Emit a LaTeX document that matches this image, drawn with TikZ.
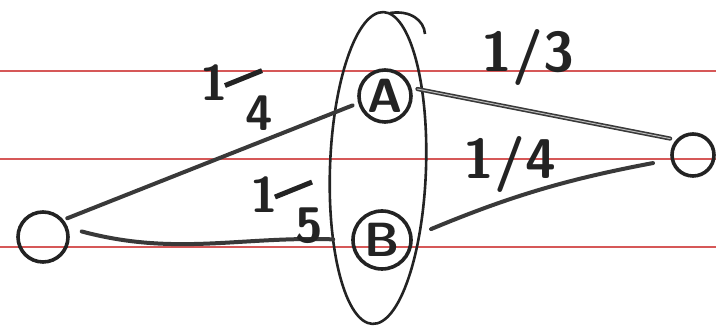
\documentclass[tikz,border=0pt]{standalone}
\usepackage{fontspec}
\definecolor{ruled}{RGB}{214,88,88}
\definecolor{ink}{RGB}{35,35,35}
% hand-style fraction: numerator up left, tilted bar, denominator down right
\newcommand{\slantfrac}[2]{\raisebox{0.6em}{#1}\kern-0.08em\raisebox{0.86em}{\rotatebox{22}{\rule{0.8em}{0.1em}}}\kern-0.34em#2}
\begin{document}
\begin{tikzpicture}[x=1pt, y=1pt,
  pen/.style={line width=3.6pt, color=ink},
  spot/.style={draw, circle, pen, inner sep=0pt, minimum size=#1,
    font=\fontsize{48}{48}\selectfont\sffamily\bfseries},
  edge/.style={line width=4pt, color=ink!90, line cap=round},
  weight/.style={inner sep=0pt, color=ink, font=\fontsize{56}{56}\selectfont\sffamily\bfseries},
  slanted/.style={inner sep=0pt, color=ink, font=\fontsize{50}{50}\selectfont\sffamily\bfseries}]
\useasboundingbox (0,0) rectangle (716,328);
\foreach \y in {81,169,257} \draw[line width=1.6pt, ruled] (0,\y) -- (716,\y);
% group around A and B
\draw[pen, line width=2.6pt] (378,160) ellipse [x radius=48, y radius=156, rotate=-2];
\draw[pen, line width=2.6pt] (390,315) .. controls (410,318) and (424,308) .. (425,294);
% vertices
\node[spot=50pt] (s) at (43,91) {};
\node[spot=52pt] (a) at (385,232) {A};
\node[spot=58pt] (b) at (382,88) {B};
\node[spot=42pt] (t) at (693,173) {};
% connectors
\draw[edge, shorten <=4pt, shorten >=6pt] (s.40) -- (a.195);
\draw[edge, shorten <=14pt, shorten >=18pt] (s.20) to[out=-15, in=178] (b.west);
\draw[edge, double=white!70!ink, double distance=1pt, line width=1.6pt,
  shorten <=6pt, shorten >=6pt] (a.17) -- (t.138);
\draw[edge, shorten <=20pt, shorten >=18pt] (b.6) to[bend left=6] (t.192);
% weights
\node[slanted] (lsa) at (237,230) {\slantfrac{1}{4}};
\node[slanted] (lsb) at (287,118) {\slantfrac{1}{5}};
\node[weight] (lat) at (528,270) {1/3};
\node[weight] (lbt) at (510,163) {1/4};
\end{tikzpicture}
\end{document}
